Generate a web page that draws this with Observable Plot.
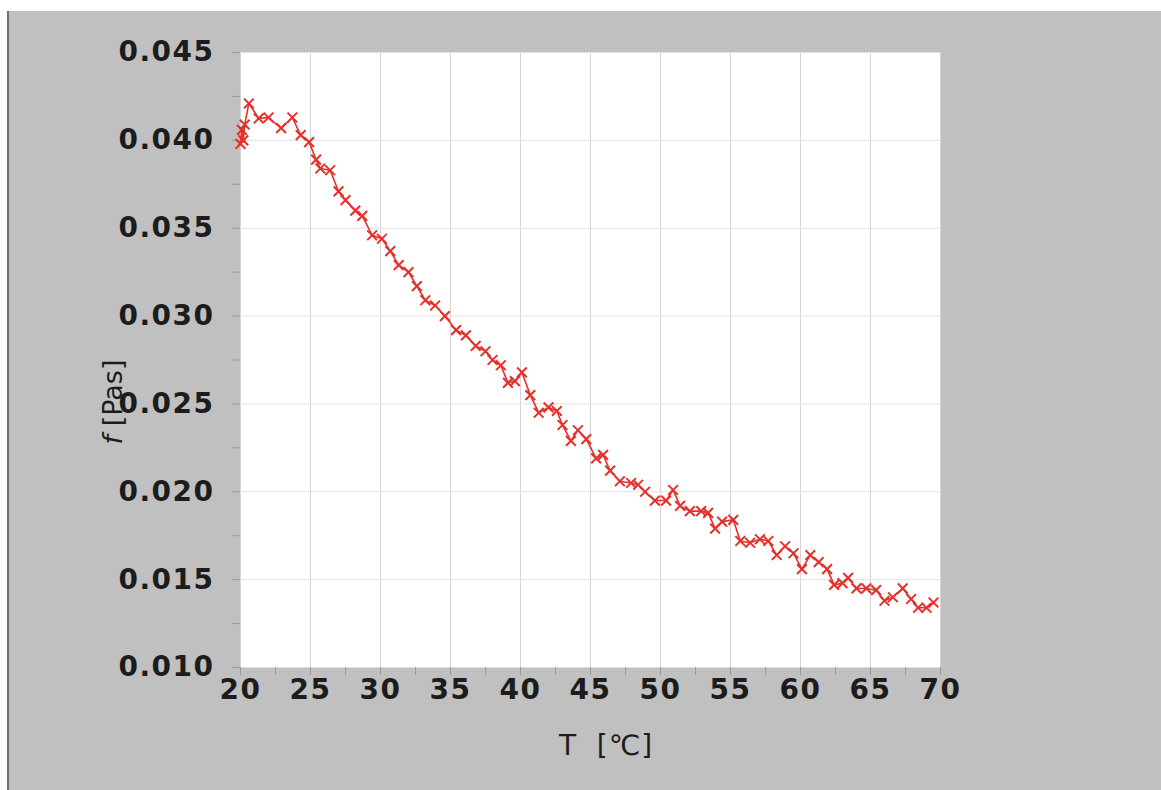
<!DOCTYPE html>
<html>
<head>
<meta charset="utf-8">
<script src="https://cdn.jsdelivr.net/npm/d3@7"></script>
<script src="https://cdn.jsdelivr.net/npm/@observablehq/plot@0.6"></script>
<style>
  html, body { margin: 0; padding: 0; background: #ffffff; }
  #wrap { position: relative; width: 1161px; height: 790px; overflow: hidden; }
  #bg { position: absolute; left: 7px; top: 11px; right: 0; bottom: 0; background: #c0c0c0; border-left: 2px solid #6e6e6e; }
  #chart { position: absolute; left: 0; top: 0; }
  #chart svg g[aria-label="x-axis tick label"] text,
  #chart svg g[aria-label="y-axis tick label"] text {
    font-family: "DejaVu Sans", sans-serif; font-size: 28px; font-weight: bold; fill: #1c1c1c; letter-spacing: 1.5px;
  }
  .lbl { position: absolute; font-family: "DejaVu Sans", sans-serif; color: #1c1c1c; white-space: nowrap; }
  #ylab { left: 112px; top: 402px; font-size: 27px; transform: translate(-50%, -50%) rotate(-90deg); }
  #xlab { left: 606px; top: 745px; font-size: 28px; transform: translate(-50%, -50%); letter-spacing: 1px; }
</style>
</head>
<body>
<div id="wrap">
  <div id="bg"></div>
  <div id="chart"></div>
  <div class="lbl" id="ylab"><i>f</i> [Pas]</div>
  <div class="lbl" id="xlab">T&nbsp;&nbsp;[℃]</div>
</div>
<script>
const temps = [20.0,20.1,20.2,20.3,20.6,21.3,22.0,22.9,23.7,24.3,24.9,25.4,25.7,26.4,27.0,27.5,28.2,28.7,29.4,30.1,30.7,31.3,32.0,32.6,33.2,33.9,34.6,35.4,36.1,36.8,37.5,38.0,38.6,39.1,39.6,40.1,40.7,41.3,42.0,42.6,43.0,43.6,44.1,44.7,45.4,45.9,46.4,47.1,47.9,48.4,48.9,49.6,50.4,50.9,51.4,52.1,52.9,53.4,53.9,54.4,55.2,55.7,56.4,57.1,57.7,58.3,58.9,59.5,60.1,60.7,61.3,61.9,62.4,63.0,63.4,64.0,64.7,65.4,66.0,66.6,67.3,67.9,68.4,69.0,69.5];
const viscosity = [0.0398,0.0406,0.0400,0.0409,0.0421,0.04125,0.0413,0.0407,0.0413,0.0403,0.0399,0.0389,0.0384,0.0383,0.0371,0.0366,0.0360,0.0357,0.0346,0.0344,0.0337,0.0329,0.0325,0.0317,0.0309,0.0306,0.0300,0.0292,0.0289,0.0283,0.0280,0.0275,0.0272,0.0262,0.0263,0.0268,0.0255,0.0245,0.0248,0.0246,0.0238,0.0229,0.0235,0.0230,0.0219,0.0221,0.0212,0.0206,0.0205,0.0204,0.0200,0.0195,0.0195,0.0201,0.0192,0.0189,0.0189,0.0188,0.0179,0.0183,0.0184,0.0172,0.0171,0.0173,0.0172,0.0164,0.0169,0.0165,0.0156,0.0164,0.0160,0.0156,0.0147,0.0148,0.0151,0.0145,0.0145,0.0144,0.0138,0.0140,0.0145,0.0139,0.0134,0.0134,0.0137];
const xTicks = [20,25,30,35,40,45,50,55,60,65,70];
const xMinorTicks = [20,22.5,25,27.5,30,32.5,35,37.5,40,42.5,45,47.5,50,52.5,55,57.5,60,62.5,65,67.5,70];
const yTicks = [0.010,0.015,0.020,0.025,0.030,0.035,0.040,0.045];
const yMinorTicks = [0.010,0.0125,0.015,0.0175,0.020,0.0225,0.025,0.0275,0.030,0.0325,0.035,0.0375,0.040,0.0425,0.045];

const data = temps.map((t, i) => ({T: t, f: viscosity[i]}));
const red = "#e5302a";

const chart = Plot.plot({
  width: 1161,
  height: 790,
  marginLeft: 240,
  marginRight: 221,
  marginTop: 52,
  marginBottom: 123,
  style: {background: "transparent", fontFamily: "DejaVu Sans, sans-serif", color: "#1c1c1c"},
  x: {domain: [20, 70], label: null},
  y: {domain: [0.010, 0.045], label: null},
  marks: [
    Plot.frame({fill: "white", stroke: null}),
    Plot.gridX(xTicks, {stroke: "#d4d4d4", strokeOpacity: 1}),
    Plot.gridY(yTicks, {stroke: "#e2e2e2", strokeOpacity: 1}),
    Plot.axisX(xMinorTicks, {tickSize: 8, text: null, stroke: "#9a9a9a", label: null}),
    Plot.axisY(yMinorTicks, {tickSize: 8, text: null, stroke: "#9a9a9a", label: null}),
    Plot.axisX(xTicks, {tickSize: 0, tickPadding: 12, tickFormat: d => String(d), label: null}),
    Plot.axisY(yTicks, {tickSize: 0, tickPadding: 26, tickFormat: d3.format(".3f"), label: null}),
    Plot.line(data, {x: "T", y: "f", stroke: red, strokeWidth: 1.6}),
    Plot.dot(data, {x: "T", y: "f", symbol: "times", r: 4.5, stroke: red, strokeWidth: 2})
  ]
});
document.getElementById("chart").appendChild(chart);
</script>
</body>
</html>
